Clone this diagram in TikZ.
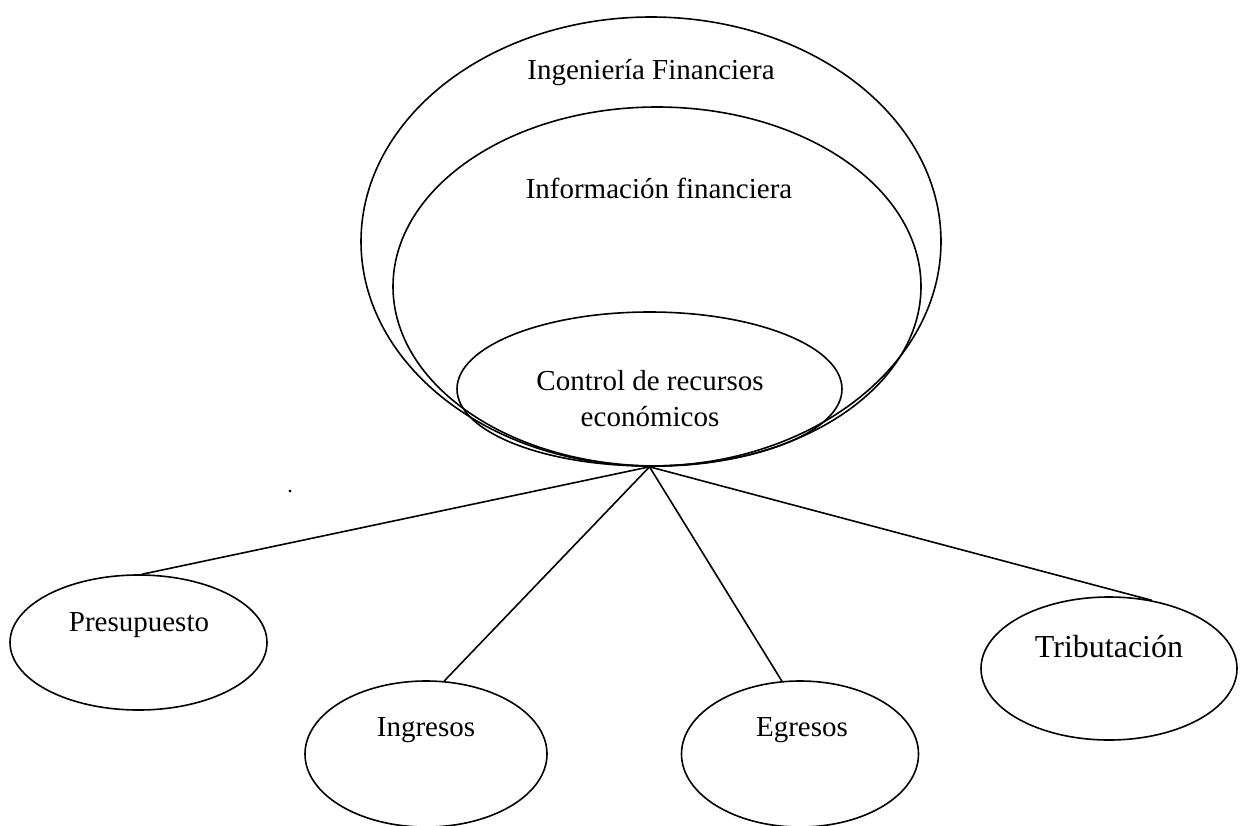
\documentclass[tikz,border=0pt]{standalone}
\usepackage{fontspec}
\setmainfont{Liberation Serif}
\usetikzlibrary{shapes.geometric}
\begin{document}
\begin{tikzpicture}[x=1pt,y=-1pt,
  oval/.style={draw,ellipse,line width=1.6pt,inner sep=0pt},
  lbl/.style={font=\fontsize{29}{36}\selectfont,inner sep=0pt,align=center},
  conn/.style={line width=1.6pt}]
\useasboundingbox (0,0) rectangle (1242,825);
\node[oval,minimum width=580pt,minimum height=449pt] (outer) at (651,241.5) {};
\node[oval,minimum width=528pt,minimum height=359pt] (middle) at (657,286.5) {};
\node[oval,minimum width=385pt,minimum height=154pt] (inner) at (649.5,389) {};
\node[lbl] (tOuter) at (651,73) {Ingeniería Financiera};
\node[lbl] (tMiddle) at (659,188) {Información financiera};
\node[lbl] (tInner) at (650,399) {Control de recursos\\económicos};
\node[oval,minimum width=257pt,minimum height=135pt] (pres) at (138.5,642.5) {};
\node[oval,minimum width=242pt,minimum height=146pt] (ing) at (426,754) {};
\node[oval,minimum width=237pt,minimum height=146pt] (egr) at (800,754) {};
\node[oval,minimum width=256pt,minimum height=143pt] (trib) at (1109,668.5) {};
\node[lbl] (tPres) at (139,625) {Presupuesto};
\node[lbl] (tIng) at (426,730) {Ingresos};
\node[lbl] (tEgr) at (802,730) {Egresos};
\node[lbl,font=\fontsize{32}{38}\selectfont] (tTrib) at (1109,647) {Tributación};
\node[lbl,font=\fontsize{22}{24}\selectfont] (dot) at (290,492) {.};
\coordinate (hub) at (inner.south);
\draw[conn] (hub) -- (pres.87);
\draw[conn] (hub) -- (ing.76);
\draw[conn] (hub) -- (egr.104);
\draw[conn] (hub) -- (trib.58);
\end{tikzpicture}
\end{document}
